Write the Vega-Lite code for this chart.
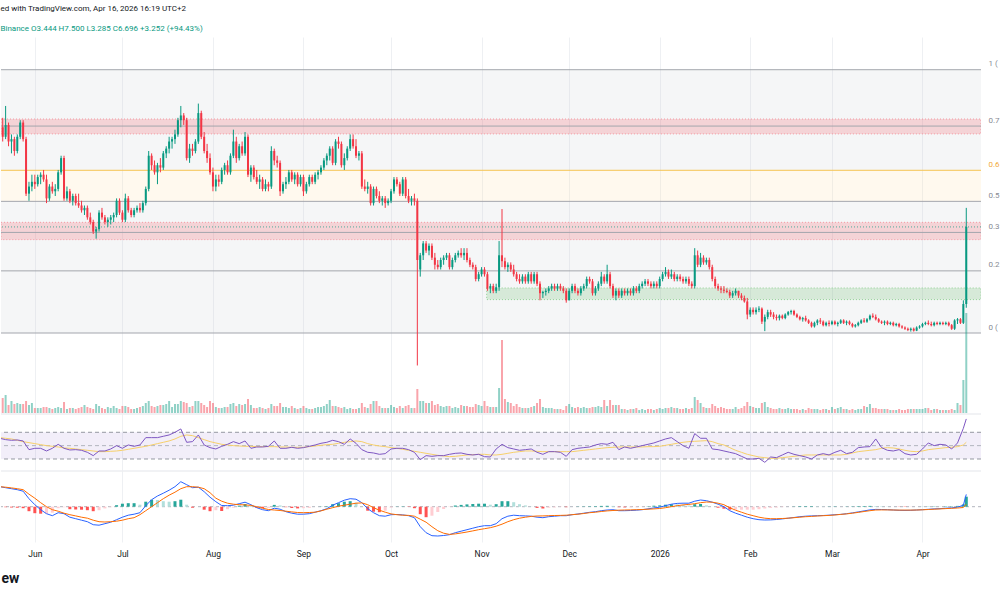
{
"$schema": "https://vega.github.io/schema/vega-lite/v6.json",
"padding": {"left": 0, "right": 0, "top": 5, "bottom": 0},
"background": "#ffffff",
"spacing": 0,
"config": {"view": {"stroke": null}, "font": "Roboto",
  "scale": {"continuousPadding": 0},
  "axisX": {"grid": true, "gridColor": "#eef0f3", "labels": false, "ticks": false, "domain": false, "title": null, "tickCount": {"interval": "month", "step": 1}},
  "axisY": {"labels": false, "ticks": false, "domain": false, "grid": false, "title": null, "minExtent": 0}},
"title": {"text": "ed with TradingView.com, Apr 16, 2026 16:19 UTC+2", "subtitle": "Binance O3.444 H7.500 L3.285 C6.696 +3.252 (+94.43%)", "anchor": "start", "fontSize": 8, "fontWeight": "normal", "color": "#131722", "subtitleFontSize": 8, "subtitleColor": "#089981", "subtitlePadding": 12, "offset": 4},
"resolve": {"scale": {"x": "independent", "y": "independent"}},
"datasets": {
"candles": [
{"t":"2025-05-20","o":10.0,"h":11.2,"l":9.7,"c":10.9,"v":17},
{"t":"2025-05-21","o":10.9,"h":11.3,"l":10.3,"c":10.5,"v":15},
{"t":"2025-05-22","o":10.5,"h":11.8,"l":10.4,"c":11.0,"v":18},
{"t":"2025-05-23","o":11.0,"h":11.1,"l":10.1,"c":10.3,"v":8},
{"t":"2025-05-24","o":10.3,"h":10.6,"l":9.8,"c":10.4,"v":12},
{"t":"2025-05-25","o":10.4,"h":10.5,"l":9.7,"c":9.9,"v":9},
{"t":"2025-05-26","o":9.9,"h":10.6,"l":9.8,"c":10.5,"v":10},
{"t":"2025-05-27","o":10.5,"h":11.2,"l":10.4,"c":11.1,"v":9},
{"t":"2025-05-28","o":11.1,"h":11.2,"l":10.3,"c":10.4,"v":9},
{"t":"2025-05-29","o":10.4,"h":10.5,"l":8.0,"c":8.1,"v":12},
{"t":"2025-05-30","o":8.1,"h":8.6,"l":7.8,"c":8.4,"v":8},
{"t":"2025-05-31","o":8.4,"h":8.9,"l":8.2,"c":8.6,"v":10},
{"t":"2025-06-01","o":8.6,"h":8.9,"l":8.3,"c":8.5,"v":5},
{"t":"2025-06-02","o":8.5,"h":8.9,"l":8.4,"c":8.8,"v":5},
{"t":"2025-06-03","o":8.8,"h":9.0,"l":8.5,"c":8.9,"v":5},
{"t":"2025-06-04","o":8.9,"h":9.1,"l":8.6,"c":8.7,"v":6},
{"t":"2025-06-05","o":8.7,"h":8.9,"l":7.7,"c":7.9,"v":6},
{"t":"2025-06-06","o":7.9,"h":8.5,"l":7.8,"c":8.4,"v":5},
{"t":"2025-06-07","o":8.4,"h":8.6,"l":8.1,"c":8.2,"v":4},
{"t":"2025-06-08","o":8.2,"h":8.5,"l":8.0,"c":8.3,"v":5},
{"t":"2025-06-09","o":8.3,"h":9.1,"l":8.2,"c":9.0,"v":6},
{"t":"2025-06-10","o":9.0,"h":9.7,"l":8.9,"c":9.6,"v":5},
{"t":"2025-06-11","o":9.6,"h":9.7,"l":7.8,"c":7.9,"v":11},
{"t":"2025-06-12","o":7.9,"h":8.4,"l":7.8,"c":8.2,"v":4},
{"t":"2025-06-13","o":8.2,"h":8.3,"l":7.7,"c":7.8,"v":5},
{"t":"2025-06-14","o":7.8,"h":8.1,"l":7.6,"c":8.0,"v":5},
{"t":"2025-06-15","o":8.0,"h":8.1,"l":7.6,"c":7.7,"v":4},
{"t":"2025-06-16","o":7.7,"h":8.1,"l":7.5,"c":7.6,"v":5},
{"t":"2025-06-17","o":7.6,"h":7.8,"l":7.3,"c":7.4,"v":6},
{"t":"2025-06-18","o":7.4,"h":7.6,"l":7.2,"c":7.5,"v":8},
{"t":"2025-06-19","o":7.5,"h":7.6,"l":7.0,"c":7.1,"v":6},
{"t":"2025-06-20","o":7.1,"h":7.3,"l":6.8,"c":6.9,"v":5},
{"t":"2025-06-21","o":6.9,"h":7.0,"l":6.4,"c":6.5,"v":4},
{"t":"2025-06-22","o":6.5,"h":6.7,"l":6.2,"c":6.6,"v":9},
{"t":"2025-06-23","o":6.6,"h":7.4,"l":6.5,"c":7.3,"v":7},
{"t":"2025-06-24","o":7.3,"h":7.5,"l":7.0,"c":7.1,"v":5},
{"t":"2025-06-25","o":7.1,"h":7.2,"l":6.8,"c":6.9,"v":4},
{"t":"2025-06-26","o":6.9,"h":7.1,"l":6.7,"c":7.0,"v":6},
{"t":"2025-06-27","o":7.0,"h":7.2,"l":6.8,"c":7.1,"v":5},
{"t":"2025-06-28","o":7.1,"h":7.3,"l":6.9,"c":7.2,"v":7},
{"t":"2025-06-29","o":7.2,"h":7.9,"l":7.1,"c":7.8,"v":5},
{"t":"2025-06-30","o":7.8,"h":7.9,"l":7.2,"c":7.3,"v":4},
{"t":"2025-07-01","o":7.3,"h":7.4,"l":6.9,"c":7.0,"v":7},
{"t":"2025-07-02","o":7.0,"h":8.1,"l":6.9,"c":7.9,"v":7},
{"t":"2025-07-03","o":7.9,"h":8.0,"l":7.3,"c":7.4,"v":6},
{"t":"2025-07-04","o":7.4,"h":7.5,"l":7.1,"c":7.2,"v":4},
{"t":"2025-07-05","o":7.2,"h":7.5,"l":7.1,"c":7.4,"v":4},
{"t":"2025-07-06","o":7.4,"h":7.6,"l":7.3,"c":7.5,"v":5},
{"t":"2025-07-07","o":7.5,"h":7.7,"l":7.3,"c":7.4,"v":6},
{"t":"2025-07-08","o":7.4,"h":7.8,"l":7.3,"c":7.7,"v":7},
{"t":"2025-07-09","o":7.7,"h":8.4,"l":7.6,"c":8.3,"v":10},
{"t":"2025-07-10","o":8.3,"h":9.9,"l":8.2,"c":9.7,"v":12},
{"t":"2025-07-11","o":9.7,"h":9.8,"l":9.1,"c":9.3,"v":7},
{"t":"2025-07-12","o":9.3,"h":9.5,"l":8.9,"c":9.0,"v":6},
{"t":"2025-07-13","o":9.0,"h":9.4,"l":8.5,"c":9.3,"v":7},
{"t":"2025-07-14","o":9.3,"h":9.6,"l":9.0,"c":9.2,"v":8},
{"t":"2025-07-15","o":9.2,"h":9.9,"l":9.1,"c":9.8,"v":8},
{"t":"2025-07-16","o":9.8,"h":10.1,"l":9.6,"c":10.0,"v":9},
{"t":"2025-07-17","o":10.0,"h":10.5,"l":9.8,"c":10.3,"v":12},
{"t":"2025-07-18","o":10.3,"h":10.5,"l":10.0,"c":10.4,"v":6},
{"t":"2025-07-19","o":10.4,"h":10.8,"l":10.2,"c":10.6,"v":9},
{"t":"2025-07-20","o":10.6,"h":11.3,"l":10.5,"c":11.2,"v":9},
{"t":"2025-07-21","o":11.2,"h":11.8,"l":10.9,"c":11.4,"v":12},
{"t":"2025-07-22","o":11.4,"h":11.5,"l":11.0,"c":11.2,"v":11},
{"t":"2025-07-23","o":11.2,"h":11.3,"l":9.5,"c":9.6,"v":10},
{"t":"2025-07-24","o":9.6,"h":10.2,"l":9.4,"c":10.0,"v":6},
{"t":"2025-07-25","o":10.0,"h":10.2,"l":9.7,"c":9.9,"v":7},
{"t":"2025-07-26","o":9.9,"h":10.4,"l":9.8,"c":10.3,"v":12},
{"t":"2025-07-27","o":10.3,"h":11.9,"l":10.2,"c":11.5,"v":12},
{"t":"2025-07-28","o":11.5,"h":11.6,"l":10.4,"c":10.5,"v":10},
{"t":"2025-07-29","o":10.5,"h":10.7,"l":9.8,"c":9.9,"v":8},
{"t":"2025-07-30","o":9.9,"h":10.2,"l":9.4,"c":9.6,"v":6},
{"t":"2025-07-31","o":9.6,"h":9.8,"l":8.9,"c":9.0,"v":12},
{"t":"2025-08-01","o":9.0,"h":9.2,"l":8.2,"c":8.4,"v":10},
{"t":"2025-08-02","o":8.4,"h":8.9,"l":8.2,"c":8.7,"v":6},
{"t":"2025-08-03","o":8.7,"h":8.9,"l":8.4,"c":8.6,"v":5},
{"t":"2025-08-04","o":8.6,"h":9.2,"l":8.5,"c":9.1,"v":5},
{"t":"2025-08-05","o":9.1,"h":9.4,"l":8.9,"c":9.3,"v":6},
{"t":"2025-08-06","o":9.3,"h":9.5,"l":8.9,"c":9.0,"v":6},
{"t":"2025-08-07","o":9.0,"h":9.8,"l":8.9,"c":9.7,"v":9},
{"t":"2025-08-08","o":9.7,"h":10.8,"l":9.6,"c":10.3,"v":10},
{"t":"2025-08-09","o":10.3,"h":10.5,"l":9.4,"c":9.6,"v":7},
{"t":"2025-08-10","o":9.6,"h":10.2,"l":9.5,"c":10.1,"v":9},
{"t":"2025-08-11","o":10.1,"h":10.3,"l":9.7,"c":9.8,"v":8},
{"t":"2025-08-12","o":9.8,"h":10.7,"l":9.7,"c":10.5,"v":9},
{"t":"2025-08-13","o":10.5,"h":10.6,"l":8.8,"c":8.9,"v":14},
{"t":"2025-08-14","o":8.9,"h":9.3,"l":8.6,"c":9.2,"v":8},
{"t":"2025-08-15","o":9.2,"h":9.3,"l":8.7,"c":8.8,"v":5},
{"t":"2025-08-16","o":8.8,"h":9.1,"l":8.5,"c":8.6,"v":5},
{"t":"2025-08-17","o":8.6,"h":8.9,"l":8.3,"c":8.7,"v":6},
{"t":"2025-08-18","o":8.7,"h":8.8,"l":8.2,"c":8.3,"v":5},
{"t":"2025-08-19","o":8.3,"h":8.7,"l":8.2,"c":8.5,"v":4},
{"t":"2025-08-20","o":8.5,"h":8.6,"l":8.2,"c":8.4,"v":5},
{"t":"2025-08-21","o":8.4,"h":10.1,"l":8.3,"c":9.9,"v":9},
{"t":"2025-08-22","o":9.9,"h":10.0,"l":9.3,"c":9.5,"v":7},
{"t":"2025-08-23","o":9.5,"h":9.7,"l":9.2,"c":9.4,"v":7},
{"t":"2025-08-24","o":9.4,"h":9.5,"l":8.0,"c":8.2,"v":10},
{"t":"2025-08-25","o":8.2,"h":8.6,"l":8.1,"c":8.5,"v":6},
{"t":"2025-08-26","o":8.5,"h":8.8,"l":8.3,"c":8.6,"v":6},
{"t":"2025-08-27","o":8.6,"h":9.1,"l":8.5,"c":9.0,"v":5},
{"t":"2025-08-28","o":9.0,"h":9.1,"l":8.6,"c":8.7,"v":7},
{"t":"2025-08-29","o":8.7,"h":9.0,"l":8.5,"c":8.9,"v":5},
{"t":"2025-08-30","o":8.9,"h":9.0,"l":8.4,"c":8.5,"v":4},
{"t":"2025-08-31","o":8.5,"h":8.9,"l":8.4,"c":8.8,"v":5},
{"t":"2025-09-01","o":8.8,"h":8.9,"l":8.0,"c":8.2,"v":7},
{"t":"2025-09-02","o":8.2,"h":8.6,"l":8.1,"c":8.5,"v":5},
{"t":"2025-09-03","o":8.5,"h":8.9,"l":8.4,"c":8.8,"v":4},
{"t":"2025-09-04","o":8.8,"h":8.9,"l":8.5,"c":8.6,"v":4},
{"t":"2025-09-05","o":8.6,"h":9.0,"l":8.5,"c":8.9,"v":5},
{"t":"2025-09-06","o":8.9,"h":9.1,"l":8.7,"c":9.0,"v":6},
{"t":"2025-09-07","o":9.0,"h":9.3,"l":8.9,"c":9.2,"v":6},
{"t":"2025-09-08","o":9.2,"h":9.6,"l":9.1,"c":9.5,"v":7},
{"t":"2025-09-09","o":9.5,"h":9.8,"l":9.3,"c":9.7,"v":9},
{"t":"2025-09-10","o":9.7,"h":10.1,"l":9.5,"c":10.0,"v":13},
{"t":"2025-09-11","o":10.0,"h":10.1,"l":9.3,"c":9.4,"v":7},
{"t":"2025-09-12","o":9.4,"h":10.4,"l":9.3,"c":10.3,"v":7},
{"t":"2025-09-13","o":10.3,"h":10.5,"l":10.0,"c":10.2,"v":6},
{"t":"2025-09-14","o":10.2,"h":10.3,"l":9.2,"c":9.3,"v":5},
{"t":"2025-09-15","o":9.3,"h":9.8,"l":9.1,"c":9.6,"v":6},
{"t":"2025-09-16","o":9.6,"h":10.1,"l":9.5,"c":10.0,"v":4},
{"t":"2025-09-17","o":10.0,"h":10.6,"l":9.9,"c":10.4,"v":5},
{"t":"2025-09-18","o":10.4,"h":10.6,"l":10.0,"c":10.1,"v":4},
{"t":"2025-09-19","o":10.1,"h":10.4,"l":9.6,"c":9.7,"v":4},
{"t":"2025-09-20","o":9.7,"h":9.9,"l":9.5,"c":9.8,"v":5},
{"t":"2025-09-21","o":9.8,"h":9.9,"l":8.3,"c":8.4,"v":10},
{"t":"2025-09-22","o":8.4,"h":8.7,"l":8.2,"c":8.3,"v":6},
{"t":"2025-09-23","o":8.3,"h":8.6,"l":8.1,"c":8.4,"v":5},
{"t":"2025-09-24","o":8.4,"h":8.5,"l":7.6,"c":7.7,"v":9},
{"t":"2025-09-25","o":7.7,"h":8.4,"l":7.6,"c":8.3,"v":12},
{"t":"2025-09-26","o":8.3,"h":8.4,"l":7.9,"c":8.0,"v":12},
{"t":"2025-09-27","o":8.0,"h":8.2,"l":7.7,"c":7.8,"v":7},
{"t":"2025-09-28","o":7.8,"h":8.0,"l":7.6,"c":7.9,"v":5},
{"t":"2025-09-29","o":7.9,"h":8.0,"l":7.5,"c":7.7,"v":5},
{"t":"2025-09-30","o":7.7,"h":7.9,"l":7.6,"c":7.8,"v":5},
{"t":"2025-10-01","o":7.8,"h":8.3,"l":7.7,"c":8.2,"v":8},
{"t":"2025-10-02","o":8.2,"h":8.8,"l":8.1,"c":8.7,"v":6},
{"t":"2025-10-03","o":8.7,"h":8.8,"l":8.4,"c":8.5,"v":5},
{"t":"2025-10-04","o":8.5,"h":8.6,"l":8.0,"c":8.1,"v":7},
{"t":"2025-10-05","o":8.1,"h":8.8,"l":8.0,"c":8.7,"v":5},
{"t":"2025-10-06","o":8.7,"h":8.8,"l":7.9,"c":8.0,"v":7},
{"t":"2025-10-07","o":8.0,"h":8.3,"l":7.7,"c":7.8,"v":8},
{"t":"2025-10-08","o":7.8,"h":8.0,"l":7.6,"c":7.9,"v":5},
{"t":"2025-10-09","o":7.9,"h":8.1,"l":7.6,"c":7.8,"v":5},
{"t":"2025-10-10","o":7.8,"h":7.9,"l":0.85,"c":5.3,"v":24},
{"t":"2025-10-11","o":4.9,"h":5.6,"l":4.6,"c":5.5,"v":12},
{"t":"2025-10-12","o":5.5,"h":6.1,"l":5.3,"c":6.0,"v":12},
{"t":"2025-10-13","o":6.0,"h":6.1,"l":5.6,"c":5.7,"v":10},
{"t":"2025-10-14","o":5.7,"h":6.0,"l":5.5,"c":5.9,"v":10},
{"t":"2025-10-15","o":5.9,"h":6.0,"l":5.3,"c":5.4,"v":12},
{"t":"2025-10-16","o":5.4,"h":5.6,"l":4.9,"c":5.1,"v":8},
{"t":"2025-10-17","o":5.1,"h":5.3,"l":4.9,"c":5.0,"v":9},
{"t":"2025-10-18","o":5.0,"h":5.4,"l":4.9,"c":5.3,"v":7},
{"t":"2025-10-19","o":5.3,"h":5.5,"l":5.1,"c":5.4,"v":6},
{"t":"2025-10-20","o":5.4,"h":5.6,"l":5.3,"c":5.5,"v":7},
{"t":"2025-10-21","o":5.5,"h":5.6,"l":4.9,"c":5.0,"v":7},
{"t":"2025-10-22","o":5.0,"h":5.4,"l":4.9,"c":5.3,"v":5},
{"t":"2025-10-23","o":5.3,"h":5.6,"l":5.2,"c":5.5,"v":6},
{"t":"2025-10-24","o":5.5,"h":5.7,"l":5.4,"c":5.6,"v":5},
{"t":"2025-10-25","o":5.6,"h":5.8,"l":5.4,"c":5.5,"v":8},
{"t":"2025-10-26","o":5.5,"h":5.8,"l":5.3,"c":5.6,"v":7},
{"t":"2025-10-27","o":5.6,"h":5.8,"l":5.2,"c":5.3,"v":7},
{"t":"2025-10-28","o":5.3,"h":5.4,"l":5.0,"c":5.1,"v":6},
{"t":"2025-10-29","o":5.1,"h":5.2,"l":4.9,"c":5.0,"v":6},
{"t":"2025-10-30","o":5.0,"h":5.1,"l":4.4,"c":4.5,"v":9},
{"t":"2025-10-31","o":4.5,"h":4.8,"l":4.4,"c":4.7,"v":8},
{"t":"2025-11-01","o":4.7,"h":5.0,"l":4.6,"c":4.9,"v":7},
{"t":"2025-11-02","o":4.9,"h":5.0,"l":4.6,"c":4.7,"v":12},
{"t":"2025-11-03","o":4.7,"h":4.8,"l":4.0,"c":4.1,"v":7},
{"t":"2025-11-04","o":4.1,"h":4.3,"l":3.9,"c":4.2,"v":6},
{"t":"2025-11-05","o":4.2,"h":4.3,"l":3.9,"c":4.0,"v":6},
{"t":"2025-11-06","o":4.0,"h":4.3,"l":3.9,"c":4.15,"v":6},
{"t":"2025-11-07","o":4.15,"h":6.1,"l":4.0,"c":5.5,"v":25},
{"t":"2025-11-08","o":5.5,"h":7.45,"l":5.0,"c":5.25,"v":73},
{"t":"2025-11-09","o":5.25,"h":5.4,"l":4.9,"c":5.0,"v":14},
{"t":"2025-11-10","o":5.0,"h":5.2,"l":4.8,"c":5.1,"v":11},
{"t":"2025-11-11","o":5.1,"h":5.2,"l":4.8,"c":4.9,"v":10},
{"t":"2025-11-12","o":4.9,"h":5.1,"l":4.6,"c":4.7,"v":7},
{"t":"2025-11-13","o":4.7,"h":4.8,"l":4.4,"c":4.5,"v":9},
{"t":"2025-11-14","o":4.5,"h":4.7,"l":4.3,"c":4.4,"v":6},
{"t":"2025-11-15","o":4.4,"h":4.7,"l":4.3,"c":4.6,"v":5},
{"t":"2025-11-16","o":4.6,"h":4.7,"l":4.3,"c":4.4,"v":5},
{"t":"2025-11-17","o":4.4,"h":4.8,"l":4.3,"c":4.7,"v":5},
{"t":"2025-11-18","o":4.7,"h":4.8,"l":4.3,"c":4.4,"v":6},
{"t":"2025-11-19","o":4.4,"h":4.8,"l":4.3,"c":4.7,"v":7},
{"t":"2025-11-20","o":4.7,"h":4.8,"l":4.2,"c":4.3,"v":10},
{"t":"2025-11-21","o":4.3,"h":4.4,"l":3.6,"c":3.9,"v":14},
{"t":"2025-11-22","o":3.9,"h":4.0,"l":3.7,"c":3.95,"v":6},
{"t":"2025-11-23","o":3.95,"h":4.1,"l":3.8,"c":4.0,"v":5},
{"t":"2025-11-24","o":4.0,"h":4.2,"l":3.9,"c":4.1,"v":5},
{"t":"2025-11-25","o":4.1,"h":4.3,"l":4.0,"c":4.2,"v":5},
{"t":"2025-11-26","o":4.2,"h":4.3,"l":4.0,"c":4.1,"v":4},
{"t":"2025-11-27","o":4.1,"h":4.3,"l":4.0,"c":4.2,"v":4},
{"t":"2025-11-28","o":4.2,"h":4.3,"l":4.0,"c":4.1,"v":4},
{"t":"2025-11-29","o":4.1,"h":4.2,"l":3.9,"c":4.0,"v":3},
{"t":"2025-11-30","o":4.0,"h":4.1,"l":3.5,"c":3.6,"v":7},
{"t":"2025-12-01","o":3.6,"h":4.1,"l":3.6,"c":4.0,"v":9},
{"t":"2025-12-02","o":4.0,"h":4.3,"l":3.9,"c":4.2,"v":6},
{"t":"2025-12-03","o":4.2,"h":4.3,"l":3.9,"c":4.0,"v":5},
{"t":"2025-12-04","o":4.0,"h":4.1,"l":3.8,"c":3.9,"v":6},
{"t":"2025-12-05","o":3.9,"h":4.2,"l":3.8,"c":4.1,"v":5},
{"t":"2025-12-06","o":4.1,"h":4.3,"l":4.0,"c":4.2,"v":6},
{"t":"2025-12-07","o":4.2,"h":4.6,"l":4.1,"c":4.5,"v":5},
{"t":"2025-12-08","o":4.5,"h":4.6,"l":4.3,"c":4.4,"v":5},
{"t":"2025-12-09","o":4.4,"h":4.5,"l":3.8,"c":3.9,"v":6},
{"t":"2025-12-10","o":3.9,"h":4.2,"l":3.8,"c":4.1,"v":6},
{"t":"2025-12-11","o":4.1,"h":4.4,"l":4.0,"c":4.3,"v":7},
{"t":"2025-12-12","o":4.3,"h":4.8,"l":4.2,"c":4.6,"v":6},
{"t":"2025-12-13","o":4.6,"h":4.7,"l":4.3,"c":4.4,"v":13},
{"t":"2025-12-14","o":4.4,"h":5.1,"l":4.3,"c":4.7,"v":7},
{"t":"2025-12-15","o":4.7,"h":4.8,"l":4.1,"c":4.2,"v":13},
{"t":"2025-12-16","o":4.2,"h":4.3,"l":3.7,"c":3.8,"v":8},
{"t":"2025-12-17","o":3.8,"h":4.1,"l":3.6,"c":4.0,"v":8},
{"t":"2025-12-18","o":4.0,"h":4.1,"l":3.7,"c":3.8,"v":8},
{"t":"2025-12-19","o":3.8,"h":4.1,"l":3.7,"c":4.0,"v":4},
{"t":"2025-12-20","o":4.0,"h":4.1,"l":3.8,"c":3.9,"v":4},
{"t":"2025-12-21","o":3.9,"h":4.1,"l":3.8,"c":4.0,"v":3},
{"t":"2025-12-22","o":4.0,"h":4.1,"l":3.8,"c":3.9,"v":4},
{"t":"2025-12-23","o":3.9,"h":4.2,"l":3.8,"c":4.1,"v":4},
{"t":"2025-12-24","o":4.1,"h":4.2,"l":3.9,"c":4.0,"v":5},
{"t":"2025-12-25","o":4.0,"h":4.3,"l":3.9,"c":4.2,"v":3},
{"t":"2025-12-26","o":4.2,"h":4.4,"l":4.1,"c":4.3,"v":4},
{"t":"2025-12-27","o":4.3,"h":4.5,"l":4.2,"c":4.4,"v":3},
{"t":"2025-12-28","o":4.4,"h":4.5,"l":4.2,"c":4.3,"v":4},
{"t":"2025-12-29","o":4.3,"h":4.4,"l":4.1,"c":4.2,"v":4},
{"t":"2025-12-30","o":4.2,"h":4.4,"l":4.1,"c":4.3,"v":3},
{"t":"2025-12-31","o":4.3,"h":4.4,"l":4.1,"c":4.2,"v":4},
{"t":"2026-01-01","o":4.2,"h":4.6,"l":4.1,"c":4.5,"v":5},
{"t":"2026-01-02","o":4.5,"h":4.8,"l":4.4,"c":4.7,"v":4},
{"t":"2026-01-03","o":4.7,"h":5.0,"l":4.6,"c":4.8,"v":5},
{"t":"2026-01-04","o":4.8,"h":4.9,"l":4.5,"c":4.6,"v":5},
{"t":"2026-01-05","o":4.6,"h":4.9,"l":4.5,"c":4.7,"v":6},
{"t":"2026-01-06","o":4.7,"h":4.8,"l":4.4,"c":4.5,"v":5},
{"t":"2026-01-07","o":4.5,"h":4.7,"l":4.4,"c":4.6,"v":5},
{"t":"2026-01-08","o":4.6,"h":4.7,"l":4.4,"c":4.5,"v":4},
{"t":"2026-01-09","o":4.5,"h":4.6,"l":4.3,"c":4.4,"v":4},
{"t":"2026-01-10","o":4.4,"h":4.6,"l":4.3,"c":4.5,"v":5},
{"t":"2026-01-11","o":4.5,"h":4.6,"l":4.2,"c":4.3,"v":4},
{"t":"2026-01-12","o":4.3,"h":4.4,"l":4.1,"c":4.2,"v":5},
{"t":"2026-01-13","o":4.2,"h":5.8,"l":4.1,"c":5.5,"v":16},
{"t":"2026-01-14","o":5.5,"h":5.7,"l":5.0,"c":5.1,"v":13},
{"t":"2026-01-15","o":5.1,"h":5.6,"l":5.0,"c":5.4,"v":10},
{"t":"2026-01-16","o":5.4,"h":5.5,"l":5.1,"c":5.2,"v":6},
{"t":"2026-01-17","o":5.2,"h":5.4,"l":5.1,"c":5.3,"v":5},
{"t":"2026-01-18","o":5.3,"h":5.4,"l":4.9,"c":5.0,"v":5},
{"t":"2026-01-19","o":5.0,"h":5.1,"l":4.4,"c":4.5,"v":9},
{"t":"2026-01-20","o":4.5,"h":4.6,"l":4.1,"c":4.2,"v":7},
{"t":"2026-01-21","o":4.2,"h":4.3,"l":4.0,"c":4.1,"v":5},
{"t":"2026-01-22","o":4.1,"h":4.2,"l":3.9,"c":4.05,"v":6},
{"t":"2026-01-23","o":4.05,"h":4.2,"l":3.9,"c":4.0,"v":5},
{"t":"2026-01-24","o":4.0,"h":4.1,"l":3.9,"c":3.95,"v":4},
{"t":"2026-01-25","o":3.95,"h":4.05,"l":3.7,"c":3.8,"v":4},
{"t":"2026-01-26","o":3.8,"h":4.0,"l":3.7,"c":3.9,"v":4},
{"t":"2026-01-27","o":3.9,"h":4.1,"l":3.8,"c":4.0,"v":6},
{"t":"2026-01-28","o":4.0,"h":4.0,"l":3.7,"c":3.8,"v":4},
{"t":"2026-01-29","o":3.8,"h":3.9,"l":3.6,"c":3.7,"v":5},
{"t":"2026-01-30","o":3.7,"h":3.8,"l":3.5,"c":3.55,"v":7},
{"t":"2026-01-31","o":3.55,"h":3.7,"l":2.8,"c":3.0,"v":11},
{"t":"2026-02-01","o":3.0,"h":3.3,"l":2.9,"c":3.2,"v":7},
{"t":"2026-02-02","o":3.2,"h":3.3,"l":3.0,"c":3.1,"v":6},
{"t":"2026-02-03","o":3.1,"h":3.3,"l":3.0,"c":3.2,"v":5},
{"t":"2026-02-04","o":3.2,"h":3.35,"l":3.1,"c":3.25,"v":5},
{"t":"2026-02-05","o":3.25,"h":3.3,"l":2.6,"c":2.7,"v":10},
{"t":"2026-02-06","o":2.7,"h":3.0,"l":2.3,"c":2.9,"v":11},
{"t":"2026-02-07","o":2.9,"h":3.2,"l":2.8,"c":3.1,"v":6},
{"t":"2026-02-08","o":3.1,"h":3.2,"l":2.9,"c":3.0,"v":5},
{"t":"2026-02-09","o":3.0,"h":3.1,"l":2.8,"c":2.9,"v":4},
{"t":"2026-02-10","o":2.9,"h":3.0,"l":2.75,"c":2.85,"v":4},
{"t":"2026-02-11","o":2.85,"h":3.0,"l":2.75,"c":2.95,"v":5},
{"t":"2026-02-12","o":2.95,"h":3.0,"l":2.8,"c":2.85,"v":4},
{"t":"2026-02-13","o":2.85,"h":3.05,"l":2.8,"c":3.0,"v":4},
{"t":"2026-02-14","o":3.0,"h":3.15,"l":2.95,"c":3.1,"v":5},
{"t":"2026-02-15","o":3.1,"h":3.2,"l":3.0,"c":3.15,"v":4},
{"t":"2026-02-16","o":3.15,"h":3.2,"l":2.95,"c":3.0,"v":4},
{"t":"2026-02-17","o":3.0,"h":3.05,"l":2.85,"c":2.9,"v":4},
{"t":"2026-02-18","o":2.9,"h":2.95,"l":2.75,"c":2.8,"v":3},
{"t":"2026-02-19","o":2.8,"h":2.9,"l":2.7,"c":2.85,"v":4},
{"t":"2026-02-20","o":2.85,"h":2.95,"l":2.7,"c":2.75,"v":3},
{"t":"2026-02-21","o":2.75,"h":2.8,"l":2.6,"c":2.65,"v":5},
{"t":"2026-02-22","o":2.65,"h":2.7,"l":2.45,"c":2.5,"v":4},
{"t":"2026-02-23","o":2.5,"h":2.7,"l":2.45,"c":2.65,"v":4},
{"t":"2026-02-24","o":2.65,"h":2.8,"l":2.55,"c":2.75,"v":4},
{"t":"2026-02-25","o":2.75,"h":2.85,"l":2.6,"c":2.7,"v":3},
{"t":"2026-02-26","o":2.7,"h":2.75,"l":2.5,"c":2.55,"v":4},
{"t":"2026-02-27","o":2.55,"h":2.7,"l":2.5,"c":2.65,"v":4},
{"t":"2026-02-28","o":2.65,"h":2.75,"l":2.5,"c":2.6,"v":3},
{"t":"2026-03-01","o":2.6,"h":2.75,"l":2.55,"c":2.7,"v":6},
{"t":"2026-03-02","o":2.7,"h":2.75,"l":2.55,"c":2.6,"v":4},
{"t":"2026-03-03","o":2.6,"h":2.7,"l":2.5,"c":2.65,"v":5},
{"t":"2026-03-04","o":2.65,"h":2.8,"l":2.6,"c":2.75,"v":6},
{"t":"2026-03-05","o":2.75,"h":2.8,"l":2.6,"c":2.65,"v":4},
{"t":"2026-03-06","o":2.65,"h":2.75,"l":2.55,"c":2.7,"v":4},
{"t":"2026-03-07","o":2.7,"h":2.75,"l":2.55,"c":2.6,"v":3},
{"t":"2026-03-08","o":2.6,"h":2.65,"l":2.45,"c":2.5,"v":4},
{"t":"2026-03-09","o":2.5,"h":2.6,"l":2.45,"c":2.55,"v":3},
{"t":"2026-03-10","o":2.55,"h":2.7,"l":2.5,"c":2.65,"v":4},
{"t":"2026-03-11","o":2.65,"h":2.8,"l":2.6,"c":2.75,"v":4},
{"t":"2026-03-12","o":2.75,"h":2.85,"l":2.65,"c":2.7,"v":7},
{"t":"2026-03-13","o":2.7,"h":2.85,"l":2.65,"c":2.8,"v":6},
{"t":"2026-03-14","o":2.8,"h":3.0,"l":2.75,"c":2.95,"v":9},
{"t":"2026-03-15","o":2.95,"h":3.05,"l":2.85,"c":2.9,"v":5},
{"t":"2026-03-16","o":2.9,"h":3.0,"l":2.75,"c":2.8,"v":5},
{"t":"2026-03-17","o":2.8,"h":2.85,"l":2.65,"c":2.7,"v":4},
{"t":"2026-03-18","o":2.7,"h":2.75,"l":2.6,"c":2.65,"v":4},
{"t":"2026-03-19","o":2.65,"h":2.75,"l":2.55,"c":2.7,"v":4},
{"t":"2026-03-20","o":2.7,"h":2.75,"l":2.55,"c":2.6,"v":4},
{"t":"2026-03-21","o":2.6,"h":2.7,"l":2.55,"c":2.65,"v":3},
{"t":"2026-03-22","o":2.65,"h":2.7,"l":2.5,"c":2.55,"v":3},
{"t":"2026-03-23","o":2.55,"h":2.65,"l":2.5,"c":2.6,"v":3},
{"t":"2026-03-24","o":2.6,"h":2.65,"l":2.45,"c":2.5,"v":4},
{"t":"2026-03-25","o":2.5,"h":2.55,"l":2.4,"c":2.45,"v":3},
{"t":"2026-03-26","o":2.45,"h":2.5,"l":2.35,"c":2.4,"v":3},
{"t":"2026-03-27","o":2.4,"h":2.45,"l":2.3,"c":2.35,"v":4},
{"t":"2026-03-28","o":2.35,"h":2.45,"l":2.28,"c":2.4,"v":4},
{"t":"2026-03-29","o":2.4,"h":2.45,"l":2.28,"c":2.32,"v":4},
{"t":"2026-03-30","o":2.32,"h":2.5,"l":2.3,"c":2.45,"v":4},
{"t":"2026-03-31","o":2.45,"h":2.55,"l":2.4,"c":2.5,"v":4},
{"t":"2026-04-01","o":2.5,"h":2.65,"l":2.45,"c":2.6,"v":4},
{"t":"2026-04-02","o":2.6,"h":2.7,"l":2.55,"c":2.65,"v":5},
{"t":"2026-04-03","o":2.65,"h":2.75,"l":2.55,"c":2.6,"v":5},
{"t":"2026-04-04","o":2.6,"h":2.7,"l":2.5,"c":2.55,"v":3},
{"t":"2026-04-05","o":2.55,"h":2.7,"l":2.5,"c":2.65,"v":4},
{"t":"2026-04-06","o":2.65,"h":2.7,"l":2.55,"c":2.6,"v":4},
{"t":"2026-04-07","o":2.6,"h":2.7,"l":2.55,"c":2.65,"v":3},
{"t":"2026-04-08","o":2.65,"h":2.7,"l":2.55,"c":2.6,"v":3},
{"t":"2026-04-09","o":2.6,"h":2.7,"l":2.55,"c":2.65,"v":3},
{"t":"2026-04-10","o":2.65,"h":2.7,"l":2.5,"c":2.55,"v":3},
{"t":"2026-04-11","o":2.55,"h":2.6,"l":2.35,"c":2.4,"v":4},
{"t":"2026-04-12","o":2.4,"h":2.8,"l":2.35,"c":2.75,"v":3},
{"t":"2026-04-13","o":2.75,"h":2.85,"l":2.6,"c":2.8,"v":10},
{"t":"2026-04-14","o":2.8,"h":2.85,"l":2.6,"c":2.65,"v":8},
{"t":"2026-04-15","o":2.65,"h":3.6,"l":2.6,"c":3.444,"v":33},
{"t":"2026-04-16","o":3.444,"h":7.5,"l":3.285,"c":6.696,"v":100}
],
"ind": [
{"t":"2025-05-20","r":61,"a":62,"m":2.0,"s":2.0,"g":0},
{"t":"2025-05-22","r":59,"a":61,"m":1.9,"s":1.95,"g":-0.05},
{"t":"2025-05-24","r":58,"a":60,"m":1.8,"s":1.88,"g":-0.08},
{"t":"2025-05-26","r":58.5,"a":58,"m":1.7,"s":1.8,"g":-0.1},
{"t":"2025-05-28","r":57,"a":56,"m":1.55,"s":1.7,"g":-0.15},
{"t":"2025-05-30","r":44,"a":54.5,"m":0.8,"s":1.25,"g":-0.45},
{"t":"2025-06-01","r":46,"a":53,"m":0.2,"s":0.85,"g":-0.65},
{"t":"2025-06-03","r":46,"a":51.5,"m":-0.3,"s":0.4,"g":-0.7},
{"t":"2025-06-05","r":42,"a":50,"m":-0.7,"s":0,"g":-0.7},
{"t":"2025-06-07","r":46,"a":49,"m":-0.9,"s":-0.3,"g":-0.6},
{"t":"2025-06-09","r":52,"a":48,"m":-0.6,"s":-0.45,"g":-0.15},
{"t":"2025-06-11","r":46,"a":46.5,"m":-0.7,"s":-0.65,"g":-0.05},
{"t":"2025-06-13","r":43.5,"a":46,"m":-1.05,"s":-0.8,"g":-0.25},
{"t":"2025-06-15","r":44,"a":45,"m":-1.2,"s":-0.92,"g":-0.28},
{"t":"2025-06-17","r":43,"a":44,"m":-1.35,"s":-1.05,"g":-0.3},
{"t":"2025-06-19","r":40,"a":43,"m":-1.5,"s":-1.15,"g":-0.35},
{"t":"2025-06-21","r":35,"a":42,"m":-1.8,"s":-1.35,"g":-0.45},
{"t":"2025-06-23","r":42,"a":41,"m":-1.85,"s":-1.5,"g":-0.35},
{"t":"2025-06-25","r":42,"a":41,"m":-1.7,"s":-1.53,"g":-0.17},
{"t":"2025-06-27","r":45,"a":41.5,"m":-1.55,"s":-1.5,"g":-0.05},
{"t":"2025-06-29","r":50,"a":42,"m":-1.3,"s":-1.45,"g":0.15},
{"t":"2025-07-01","r":46,"a":43,"m":-1.05,"s":-1.35,"g":0.3},
{"t":"2025-07-03","r":51,"a":44.5,"m":-0.85,"s":-1.2,"g":0.35},
{"t":"2025-07-05","r":49,"a":46,"m":-0.75,"s":-1.1,"g":0.35},
{"t":"2025-07-07","r":51,"a":47.5,"m":-0.6,"s":-0.8,"g":0.2},
{"t":"2025-07-09","r":62,"a":49,"m":0.1,"s":-0.4,"g":0.5},
{"t":"2025-07-11","r":62,"a":51,"m":0.7,"s":0,"g":0.7},
{"t":"2025-07-13","r":62,"a":53,"m":1.07,"s":0.4,"g":0.67},
{"t":"2025-07-15","r":64,"a":55,"m":1.35,"s":0.8,"g":0.55},
{"t":"2025-07-17","r":66,"a":57,"m":1.65,"s":1.15,"g":0.5},
{"t":"2025-07-19","r":70,"a":60,"m":2.0,"s":1.45,"g":0.55},
{"t":"2025-07-21","r":75,"a":64,"m":2.5,"s":1.8,"g":0.7},
{"t":"2025-07-23","r":55,"a":66,"m":2.2,"s":2.0,"g":0.2},
{"t":"2025-07-25","r":56,"a":65,"m":1.9,"s":2.0,"g":-0.1},
{"t":"2025-07-27","r":66,"a":62,"m":1.95,"s":1.95,"g":0},
{"t":"2025-07-29","r":51,"a":59,"m":1.5,"s":1.8,"g":-0.3},
{"t":"2025-07-31","r":47,"a":56,"m":0.95,"s":1.4,"g":-0.45},
{"t":"2025-08-02","r":45,"a":54,"m":0.5,"s":0.85,"g":-0.35},
{"t":"2025-08-04","r":49,"a":52,"m":0.12,"s":0.55,"g":-0.43},
{"t":"2025-08-06","r":52,"a":51,"m":0.1,"s":0.35,"g":-0.25},
{"t":"2025-08-08","r":56,"a":50,"m":0.15,"s":0.25,"g":-0.1},
{"t":"2025-08-10","r":53,"a":49.5,"m":0.3,"s":0.2,"g":0.1},
{"t":"2025-08-12","r":57,"a":49,"m":0.45,"s":0.18,"g":0.27},
{"t":"2025-08-14","r":46,"a":49,"m":0.2,"s":0.13,"g":0.07},
{"t":"2025-08-16","r":48,"a":48.5,"m":-0.1,"s":0,"g":-0.1},
{"t":"2025-08-18","r":48,"a":48.5,"m":-0.3,"s":-0.15,"g":-0.15},
{"t":"2025-08-20","r":49,"a":48.5,"m":-0.4,"s":-0.28,"g":-0.12},
{"t":"2025-08-22","r":57,"a":48.5,"m":-0.15,"s":-0.33,"g":0.18},
{"t":"2025-08-24","r":46,"a":48,"m":-0.25,"s":-0.38,"g":0.13},
{"t":"2025-08-26","r":46,"a":48,"m":-0.5,"s":-0.45,"g":-0.05},
{"t":"2025-08-28","r":47.5,"a":47.5,"m":-0.65,"s":-0.52,"g":-0.13},
{"t":"2025-08-30","r":46,"a":47.5,"m":-0.75,"s":-0.58,"g":-0.17},
{"t":"2025-09-01","r":47,"a":47.5,"m":-0.75,"s":-0.6,"g":-0.15},
{"t":"2025-09-03","r":49,"a":48.5,"m":-0.7,"s":-0.58,"g":-0.12},
{"t":"2025-09-05","r":51,"a":49.5,"m":-0.55,"s":-0.55,"g":0},
{"t":"2025-09-07","r":53.5,"a":50.5,"m":-0.4,"s":-0.42,"g":0.02},
{"t":"2025-09-09","r":55,"a":51.5,"m":-0.2,"s":-0.25,"g":0.05},
{"t":"2025-09-11","r":58,"a":52,"m":0.15,"s":-0.1,"g":0.25},
{"t":"2025-09-13","r":56,"a":53.5,"m":0.4,"s":0.05,"g":0.35},
{"t":"2025-09-15","r":52,"a":55,"m":0.65,"s":0.15,"g":0.5},
{"t":"2025-09-17","r":60,"a":56,"m":0.8,"s":0.25,"g":0.55},
{"t":"2025-09-19","r":53.5,"a":57,"m":0.75,"s":0.35,"g":0.4},
{"t":"2025-09-21","r":44,"a":56,"m":0.4,"s":0.38,"g":0.02},
{"t":"2025-09-23","r":40,"a":53,"m":-0.2,"s":0.2,"g":-0.4},
{"t":"2025-09-25","r":39,"a":51,"m":-0.6,"s":-0.1,"g":-0.5},
{"t":"2025-09-27","r":37,"a":49.5,"m":-0.9,"s":-0.35,"g":-0.55},
{"t":"2025-09-29","r":38,"a":48.5,"m":-0.95,"s":-0.55,"g":-0.4},
{"t":"2025-10-01","r":45,"a":47,"m":-0.8,"s":-0.72,"g":-0.08},
{"t":"2025-10-03","r":46,"a":46,"m":-0.78,"s":-0.8,"g":0.02},
{"t":"2025-10-05","r":46,"a":44.5,"m":-0.82,"s":-0.85,"g":0.03},
{"t":"2025-10-07","r":44,"a":43,"m":-0.9,"s":-0.87,"g":-0.03},
{"t":"2025-10-09","r":40,"a":41.5,"m":-1.1,"s":-0.95,"g":-0.15},
{"t":"2025-10-11","r":29,"a":40,"m":-2.0,"s":-1.25,"g":-0.75},
{"t":"2025-10-13","r":35,"a":38.5,"m":-2.6,"s":-1.55,"g":-1.05},
{"t":"2025-10-15","r":34,"a":37,"m":-2.9,"s":-2.0,"g":-0.9},
{"t":"2025-10-17","r":35,"a":35.5,"m":-2.93,"s":-2.4,"g":-0.53},
{"t":"2025-10-19","r":35,"a":34.5,"m":-2.88,"s":-2.65,"g":-0.23},
{"t":"2025-10-21","r":37,"a":33.5,"m":-2.8,"s":-2.77,"g":-0.03},
{"t":"2025-10-23","r":38.5,"a":34,"m":-2.6,"s":-2.72,"g":0.12},
{"t":"2025-10-25","r":39,"a":35,"m":-2.45,"s":-2.63,"g":0.18},
{"t":"2025-10-27","r":37,"a":36,"m":-2.3,"s":-2.53,"g":0.23},
{"t":"2025-10-29","r":36,"a":36.5,"m":-2.15,"s":-2.42,"g":0.27},
{"t":"2025-10-31","r":37,"a":37,"m":-2.0,"s":-2.3,"g":0.3},
{"t":"2025-11-02","r":33.5,"a":37,"m":-1.9,"s":-2.2,"g":0.3},
{"t":"2025-11-04","r":33,"a":36,"m":-1.9,"s":-2.1,"g":0.2},
{"t":"2025-11-06","r":45,"a":36,"m":-1.7,"s":-1.95,"g":0.25},
{"t":"2025-11-08","r":52,"a":37,"m":-1.2,"s":-1.75,"g":0.55},
{"t":"2025-11-10","r":47,"a":38.5,"m":-0.95,"s":-1.5,"g":0.55},
{"t":"2025-11-12","r":45,"a":40,"m":-0.85,"s":-1.3,"g":0.45},
{"t":"2025-11-14","r":43,"a":41,"m":-0.9,"s":-1.15,"g":0.25},
{"t":"2025-11-16","r":44,"a":42,"m":-0.92,"s":-1.05,"g":0.13},
{"t":"2025-11-18","r":45,"a":42,"m":-0.95,"s":-0.97,"g":0.02},
{"t":"2025-11-20","r":40,"a":41.5,"m":-1.05,"s":-0.93,"g":-0.12},
{"t":"2025-11-22","r":37,"a":41,"m":-1.1,"s":-0.92,"g":-0.18},
{"t":"2025-11-24","r":41,"a":41,"m":-1.0,"s":-0.9,"g":-0.1},
{"t":"2025-11-26","r":41,"a":41,"m":-0.95,"s":-0.88,"g":-0.07},
{"t":"2025-11-28","r":40,"a":41,"m":-0.9,"s":-0.87,"g":-0.03},
{"t":"2025-11-30","r":34,"a":41,"m":-0.9,"s":-0.85,"g":-0.05},
{"t":"2025-12-02","r":44,"a":41,"m":-0.8,"s":-0.8,"g":0},
{"t":"2025-12-04","r":46,"a":42,"m":-0.73,"s":-0.75,"g":0.02},
{"t":"2025-12-06","r":47,"a":43,"m":-0.65,"s":-0.68,"g":0.03},
{"t":"2025-12-08","r":48,"a":44,"m":-0.56,"s":-0.6,"g":0.04},
{"t":"2025-12-10","r":51,"a":45,"m":-0.5,"s":-0.55,"g":0.05},
{"t":"2025-12-12","r":53,"a":46,"m":-0.4,"s":-0.48,"g":0.08},
{"t":"2025-12-14","r":52,"a":47,"m":-0.33,"s":-0.42,"g":0.09},
{"t":"2025-12-16","r":55,"a":47.5,"m":-0.3,"s":-0.38,"g":0.08},
{"t":"2025-12-18","r":44,"a":48,"m":-0.4,"s":-0.35,"g":-0.05},
{"t":"2025-12-20","r":48,"a":48,"m":-0.4,"s":-0.33,"g":-0.07},
{"t":"2025-12-22","r":46,"a":48,"m":-0.38,"s":-0.32,"g":-0.06},
{"t":"2025-12-24","r":48,"a":48,"m":-0.35,"s":-0.3,"g":-0.05},
{"t":"2025-12-26","r":50,"a":48,"m":-0.3,"s":-0.28,"g":-0.02},
{"t":"2025-12-28","r":52,"a":48.5,"m":-0.22,"s":-0.25,"g":0.03},
{"t":"2025-12-30","r":54,"a":48.5,"m":-0.12,"s":-0.22,"g":0.1},
{"t":"2026-01-01","r":57,"a":49,"m":-0.05,"s":-0.18,"g":0.13},
{"t":"2026-01-03","r":60,"a":50.5,"m":0.1,"s":-0.1,"g":0.2},
{"t":"2026-01-05","r":62,"a":52,"m":0.25,"s":0,"g":0.25},
{"t":"2026-01-07","r":56,"a":53.5,"m":0.33,"s":0.1,"g":0.23},
{"t":"2026-01-09","r":50,"a":55,"m":0.35,"s":0.18,"g":0.17},
{"t":"2026-01-11","r":46,"a":56,"m":0.35,"s":0.23,"g":0.12},
{"t":"2026-01-13","r":68,"a":56.5,"m":0.55,"s":0.3,"g":0.25},
{"t":"2026-01-15","r":61,"a":57,"m":0.67,"s":0.4,"g":0.27},
{"t":"2026-01-17","r":61,"a":57.5,"m":0.6,"s":0.47,"g":0.13},
{"t":"2026-01-19","r":45,"a":56,"m":0.45,"s":0.45,"g":0},
{"t":"2026-01-21","r":44,"a":53,"m":0.25,"s":0.35,"g":-0.1},
{"t":"2026-01-23","r":42,"a":51,"m":0,"s":0.2,"g":-0.2},
{"t":"2026-01-25","r":40,"a":47,"m":-0.4,"s":-0.1,"g":-0.3},
{"t":"2026-01-27","r":38,"a":43,"m":-0.65,"s":-0.35,"g":-0.3},
{"t":"2026-01-29","r":34,"a":40,"m":-0.85,"s":-0.55,"g":-0.3},
{"t":"2026-01-31","r":30,"a":37,"m":-1.05,"s":-0.75,"g":-0.3},
{"t":"2026-02-02","r":30,"a":35,"m":-1.2,"s":-0.9,"g":-0.3},
{"t":"2026-02-04","r":31,"a":33,"m":-1.3,"s":-1.05,"g":-0.25},
{"t":"2026-02-06","r":25,"a":32,"m":-1.33,"s":-1.15,"g":-0.18},
{"t":"2026-02-08","r":33,"a":31,"m":-1.32,"s":-1.2,"g":-0.12},
{"t":"2026-02-10","r":32,"a":31,"m":-1.28,"s":-1.2,"g":-0.08},
{"t":"2026-02-12","r":36,"a":32,"m":-1.22,"s":-1.18,"g":-0.04},
{"t":"2026-02-14","r":40,"a":33,"m":-1.15,"s":-1.15,"g":0},
{"t":"2026-02-16","r":37,"a":34,"m":-1.08,"s":-1.1,"g":0.02},
{"t":"2026-02-18","r":35,"a":35,"m":-1.0,"s":-1.05,"g":0.05},
{"t":"2026-02-20","r":33,"a":36,"m":-0.95,"s":-1.0,"g":0.05},
{"t":"2026-02-22","r":30,"a":36,"m":-0.92,"s":-0.97,"g":0.05},
{"t":"2026-02-24","r":36,"a":36,"m":-0.9,"s":-0.93,"g":0.03},
{"t":"2026-02-26","r":38,"a":36,"m":-0.88,"s":-0.9,"g":0.02},
{"t":"2026-02-28","r":36,"a":36,"m":-0.85,"s":-0.87,"g":0.02},
{"t":"2026-03-02","r":40,"a":36,"m":-0.8,"s":-0.83,"g":0.03},
{"t":"2026-03-04","r":43,"a":36,"m":-0.77,"s":-0.77,"g":0},
{"t":"2026-03-06","r":38,"a":37,"m":-0.7,"s":-0.72,"g":0.02},
{"t":"2026-03-08","r":40,"a":39,"m":-0.62,"s":-0.65,"g":0.03},
{"t":"2026-03-10","r":47,"a":41,"m":-0.52,"s":-0.57,"g":0.05},
{"t":"2026-03-12","r":48,"a":42,"m":-0.42,"s":-0.48,"g":0.06},
{"t":"2026-03-14","r":48.5,"a":43,"m":-0.32,"s":-0.4,"g":0.08},
{"t":"2026-03-16","r":60,"a":44,"m":-0.27,"s":-0.33,"g":0.06},
{"t":"2026-03-18","r":47,"a":46,"m":-0.28,"s":-0.32,"g":0.04},
{"t":"2026-03-20","r":43,"a":47,"m":-0.3,"s":-0.32,"g":0.02},
{"t":"2026-03-22","r":42,"a":46.5,"m":-0.33,"s":-0.33,"g":0},
{"t":"2026-03-24","r":44,"a":45,"m":-0.36,"s":-0.34,"g":-0.02},
{"t":"2026-03-26","r":38,"a":43,"m":-0.37,"s":-0.34,"g":-0.03},
{"t":"2026-03-28","r":36,"a":41.5,"m":-0.36,"s":-0.34,"g":-0.02},
{"t":"2026-03-30","r":37,"a":41,"m":-0.33,"s":-0.33,"g":0},
{"t":"2026-04-01","r":45,"a":42,"m":-0.3,"s":-0.31,"g":0.01},
{"t":"2026-04-03","r":54,"a":44,"m":-0.26,"s":-0.28,"g":0.02},
{"t":"2026-04-05","r":50,"a":45,"m":-0.22,"s":-0.25,"g":0.03},
{"t":"2026-04-07","r":52,"a":46,"m":-0.2,"s":-0.22,"g":0.02},
{"t":"2026-04-09","r":51,"a":47,"m":-0.15,"s":-0.19,"g":0.04},
{"t":"2026-04-11","r":45,"a":47.5,"m":-0.12,"s":-0.16,"g":0.04},
{"t":"2026-04-13","r":54,"a":48.5,"m":-0.05,"s":-0.13,"g":0.08},
{"t":"2026-04-15","r":76,"a":51,"m":0.15,"s":-0.08,"g":0.23},
{"t":"2026-04-16","r":90,"a":55,"m":1.23,"s":0.23,"g":1.0}
]
},
"vconcat": [
{
 "width": 980, "height": 376,
 "resolve": {"scale": {"y": "independent"}},
 "layer": [
  {"layer": [
   {"data": {"values": [{"lo":2.22,"hi":4.842},{"lo":4.842,"hi":6.464},{"lo":6.464,"hi":7.775},{"lo":9.086,"hi":10.952},{"lo":10.952,"hi":13.33}]},
    "mark": {"type":"rect","color":"#c9ccd4","opacity":0.18,"clip":true},
    "encoding": {"x": {"datum": {"year":2025,"month":5,"date":20,"hours":10,"utc":true},"type":"temporal","scale":{"type":"utc","padding":0,"nice":false,"domain":[{"year":2025,"month":5,"date":20,"hours":10,"utc":true},{"year":2026,"month":4,"date":21,"hours":1,"utc":true}]}},
     "x2": {"datum": {"year":2026,"month":4,"date":21,"hours":1,"utc":true}},
     "y": {"field":"lo","type":"quantitative","scale":{"domain":[-1.155,14.71],"nice":false,"zero":false},
      "axis": {"orient":"right","values":[2.22,4.842,6.464,7.775,9.086,10.952,13.33],
       "labelExpr":"datum.value == 13.33 ? '1 (' : datum.value == 10.952 ? '0.7' : datum.value == 9.086 ? '0.6' : datum.value == 7.775 ? '0.5' : datum.value == 6.464 ? '0.3' : datum.value == 4.842 ? '0.2' : '0 ('",
       "labels": true, "labelBaseline":"bottom","labelOffset":-2,"labelPadding":7,"labelFontSize":8,"labelAlign":"left",
       "labelColor": {"condition": {"test":"datum.value == 9.086","value":"#f2a93b"},"value":"#888b94"},
       "ticks": false, "domain": false, "grid": false, "title": null}},
     "y2": {"field":"hi"}}},
   {"data": {"values": [{"lo":7.775,"hi":9.086}]},
    "mark": {"type":"rect","color":"#ffe2a8","opacity":0.2,"clip":true},
    "encoding": {"x": {"datum": {"year":2025,"month":5,"date":20,"hours":10,"utc":true},"type":"temporal"},
     "x2": {"datum": {"year":2026,"month":4,"date":21,"hours":1,"utc":true}},
     "y": {"field":"lo","type":"quantitative","scale":{"domain":[-1.155,14.71],"nice":false,"zero":false}},
     "y2": {"field":"hi"}}},
   {"data": {"values": [{"lo":10.62,"hi":11.25},{"lo":6.16,"hi":6.89}]},
    "mark": {"type":"rect","fill":"#f23645","fillOpacity":0.18,"stroke":"#f28a94","strokeOpacity":0.8,"strokeWidth":1,"strokeDash":[1,2],"clip":true},
    "encoding": {"x": {"datum": {"year":2025,"month":5,"date":20,"hours":10,"utc":true},"type":"temporal"},
     "x2": {"datum": {"year":2026,"month":4,"date":21,"hours":1,"utc":true}},
     "y": {"field":"lo","type":"quantitative","scale":{"domain":[-1.155,14.71],"nice":false,"zero":false}},
     "y2": {"field":"hi"}}},
   {"data": {"values": [{"from":"2025-11-02T18:00:00Z","lo":3.63,"hi":4.12}]},
    "mark": {"type":"rect","fill":"#4caf50","fillOpacity":0.18,"stroke":"#8fcf92","strokeWidth":1,"strokeDash":[1,2],"clip":true},
    "encoding": {"x": {"field":"from","type":"temporal"},
     "x2": {"datum": {"year":2026,"month":4,"date":21,"hours":1,"utc":true}},
     "y": {"field":"lo","type":"quantitative","scale":{"domain":[-1.155,14.71],"nice":false,"zero":false}},
     "y2": {"field":"hi"}}},
   {"data": {"values": [{"p":2.22},{"p":4.842},{"p":6.464},{"p":7.775},{"p":10.952},{"p":13.33}]},
    "mark": {"type":"rule","color":"#a3a6ad","strokeWidth":1},
    "encoding": {"y": {"field":"p","type":"quantitative","scale":{"domain":[-1.155,14.71],"nice":false,"zero":false}}}},
   {"data": {"values": [{"p":9.086}]},
    "mark": {"type":"rule","color":"#f5c451","strokeWidth":1},
    "encoding": {"y": {"field":"p","type":"quantitative","scale":{"domain":[-1.155,14.71],"nice":false,"zero":false}}}},
   {"data": {"values": [{"p":6.696}]},
    "mark": {"type":"rule","color":"#089981","strokeWidth":1,"strokeDash":[1,2],"opacity":0.7},
    "encoding": {"y": {"field":"p","type":"quantitative","scale":{"domain":[-1.155,14.71],"nice":false,"zero":false}}}}
  ]},
  {"data": {"name":"candles"},
   "mark": {"type":"bar","size":2,"opacity":0.45,"clip":true},
   "encoding": {"x": {"field":"t","type":"temporal","scale":{"type":"utc","padding":0,"nice":false,"domain":[{"year":2025,"month":5,"date":20,"hours":10,"utc":true},{"year":2026,"month":4,"date":21,"hours":1,"utc":true}]}},
    "y": {"field":"v","type":"quantitative","scale":{"domain":[0,376],"nice":false,"zero":true},"axis":null},
    "color": {"condition": {"test":"datum.c >= datum.o","value":"#089981"},"value":"#f23645"}}},
  {"data": {"name":"candles"},
   "encoding": {"x": {"field":"t","type":"temporal","scale":{"type":"utc","padding":0,"nice":false,"domain":[{"year":2025,"month":5,"date":20,"hours":10,"utc":true},{"year":2026,"month":4,"date":21,"hours":1,"utc":true}]}},
    "color": {"condition": {"test":"datum.c >= datum.o","value":"#089981"},"value":"#f23645"}},
   "layer": [
    {"mark": {"type":"rule","strokeWidth":1,"clip":true},
     "encoding": {"y": {"field":"l","type":"quantitative","scale":{"domain":[-1.155,14.71],"nice":false,"zero":false},"axis":null},"y2": {"field":"h"}}},
    {"mark": {"type":"bar","size":2,"clip":true},
     "encoding": {"y": {"field":"o","type":"quantitative","scale":{"domain":[-1.155,14.71],"nice":false,"zero":false},"axis":null},"y2": {"field":"c"}}}
   ]}
 ]
},
{
 "width": 980, "height": 56,
 "layer": [
  {"data": {"values": [{}]},
   "mark": {"type":"rect","color":"#7e57c2","opacity":0.1,"clip":true},
   "encoding": {"x": {"datum": {"year":2025,"month":5,"date":20,"hours":10,"utc":true},"type":"temporal","scale":{"type":"utc","padding":0,"nice":false,"domain":[{"year":2025,"month":5,"date":20,"hours":10,"utc":true},{"year":2026,"month":4,"date":21,"hours":1,"utc":true}]}},
    "x2": {"datum": {"year":2026,"month":4,"date":21,"hours":1,"utc":true}},
    "y": {"datum":30,"type":"quantitative","scale":{"domain":[13.5,97.4],"nice":false,"zero":false},"axis":null},
    "y2": {"datum":70}}},
  {"data": {"values": [{"v":97.4}]},
   "mark": {"type":"rule","color":"#e3e5ea","strokeWidth":1},
   "encoding": {"y": {"field":"v","type":"quantitative","axis":null}}},
  {"data": {"values": [{"v":70},{"v":30}]},
   "mark": {"type":"rule","color":"#9598a1","strokeWidth":1,"strokeDash":[4,3]},
   "encoding": {"y": {"field":"v","type":"quantitative","axis":null}}},
  {"data": {"values": [{"v":50}]},
   "mark": {"type":"rule","color":"#b2b5be","strokeWidth":1,"strokeDash":[4,3]},
   "encoding": {"y": {"field":"v","type":"quantitative","axis":null}}},
  {"data": {"name":"ind"},
   "mark": {"type":"line","color":"#f7d06a","strokeWidth":1,"clip":true},
   "encoding": {"x": {"field":"t","type":"temporal"},"y": {"field":"a","type":"quantitative","axis":null}}},
  {"data": {"name":"ind"},
   "mark": {"type":"line","color":"#7e57c2","strokeWidth":1,"clip":true},
   "encoding": {"x": {"field":"t","type":"temporal"},"y": {"field":"r","type":"quantitative","axis":null}}}
 ]
},
{
 "width": 980, "height": 71,
 "layer": [
  {"data": {"values": [{"v":3.57}]},
   "mark": {"type":"rule","color":"#e3e5ea","strokeWidth":1},
   "encoding": {"y": {"field":"v","type":"quantitative","scale":{"domain":[-3.53,3.57],"nice":false,"zero":false},"axis":null}}},
  {"data": {"values": [{"v":0}]},
   "mark": {"type":"rule","color":"#b2b5be","strokeWidth":1,"strokeDash":[3,3]},
   "encoding": {"y": {"field":"v","type":"quantitative","axis":null}}},
  {"data": {"name":"ind"},
   "transform": [{"window": [{"op":"lag","field":"g","as":"pg"}], "sort": [{"field":"t"}]}],
   "mark": {"type":"bar","size":3,"clip":true},
   "encoding": {"x": {"field":"t","type":"temporal","scale":{"type":"utc","padding":0,"nice":false,"domain":[{"year":2025,"month":5,"date":20,"hours":10,"utc":true},{"year":2026,"month":4,"date":21,"hours":1,"utc":true}]},
     "axis": {"tickCount": {"interval":"month","step":1},"labels": true,
      "labelExpr": "utcFormat(datum.value, '%m') == '01' ? utcFormat(datum.value, '%Y') : utcFormat(datum.value, '%b')",
      "labelFontSize": 8.5, "labelColor": "#131722", "labelPadding": 7, "ticks": false, "domain": false, "grid": true, "gridColor": "#eef0f3",
      "title": "ew", "titleAnchor": "start", "titleAlign": "left", "titleFontSize": 14, "titleFontWeight": "bold", "titleColor": "#131722", "titlePadding": 14}},
    "y": {"field":"g","type":"quantitative","axis":null},
    "y2": {"datum":0},
    "color": {"condition": [
      {"test":"datum.g >= 0 && datum.g >= datum.pg","value":"#26a69a"},
      {"test":"datum.g >= 0","value":"#b2dfdb"},
      {"test":"datum.g < datum.pg","value":"#ff5252"}],
     "value":"#ffcdd2"}}},
  {"data": {"name":"ind"},
   "mark": {"type":"line","color":"#2962ff","strokeWidth":1,"clip":true},
   "encoding": {"x": {"field":"t","type":"temporal"},"y": {"field":"m","type":"quantitative","axis":null}}},
  {"data": {"name":"ind"},
   "mark": {"type":"line","color":"#ff6d00","strokeWidth":1,"clip":true},
   "encoding": {"x": {"field":"t","type":"temporal"},"y": {"field":"s","type":"quantitative","axis":null}}}
 ]
}
]
}
